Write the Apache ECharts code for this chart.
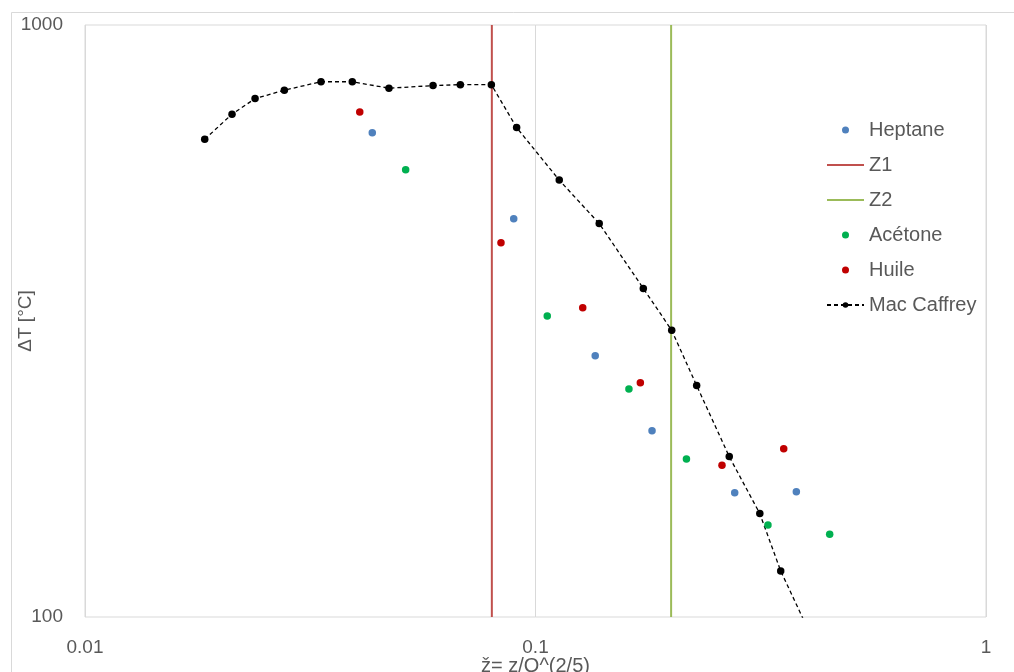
<!DOCTYPE html>
<html>
<head>
<meta charset="utf-8">
<script src="https://cdn.jsdelivr.net/npm/echarts@6/dist/echarts.min.js"></script>
<style>
html,body{margin:0;padding:0;background:#fff;}
#chart{width:1014px;height:672px;}
</style>
</head>
<body>
<div id="chart"></div>
<script>
// ---- data ----
const macCaffreyX = [0.01844, 0.02120, 0.02385, 0.02770, 0.03341, 0.03920, 0.04728, 0.05923, 0.06810, 0.0798, 0.0908, 0.1129, 0.1385, 0.1735, 0.2006, 0.2279, 0.2692, 0.3147, 0.3502, 0.428];
const macCaffreyY = [641, 707, 751, 776, 802, 802, 782, 790, 793, 793, 671, 547, 462, 359, 305, 246, 186.6, 149.5, 119.6, 86.3];

const heptaneX = [0.04342, 0.08946, 0.1357, 0.1814, 0.2768, 0.3793];
const heptaneY = [657.9, 470.9, 276.3, 206.3, 162.2, 162.8];

const huileX = [0.04073, 0.08383, 0.1273, 0.1709, 0.2594, 0.3556];
const huileY = [712.8, 428.8, 333.0, 248.8, 180.4, 192.4];

const acetoneX = [0.05150, 0.1062, 0.1612, 0.2163, 0.3281, 0.4498];
const acetoneY = [569.6, 322.5, 242.7, 184.8, 143.0, 138.0];

const z1X = [0.08, 0.08];
const z1Y = [100, 1000];
const z2X = [0.2, 0.2];
const z2Y = [100, 1000];

const xTickLabels = ['0.01', '0.1', '1'];
const yTickLabels = ['100', '1000'];
const seriesNames = ['Heptane', 'Z1', 'Z2', 'Acétone', 'Huile', 'Mac Caffrey'];

function pairs(xs, ys) { return xs.map((x, i) => [x, ys[i]]); }

const FONT = 'Liberation Sans';
const TXT = '#595959';

const chart = echarts.init(document.getElementById('chart'), null, {renderer: 'canvas'});

const option = {
  backgroundColor: '#ffffff',
  animation: false,
  graphic: [{
    type: 'rect', left: 9, top: 10, silent: true, z: -10,
    shape: {x: 0, y: 0, width: 1100, height: 800},
    style: {fill: 'none', stroke: '#d9d9d9', lineWidth: 1}
  }],
  grid: {
    left: 85, right: 28, top: 25, bottom: 55,
    show: true, borderColor: '#d9d9d9', borderWidth: 1, backgroundColor: 'transparent',
    containLabel: false, outerBoundsMode: 'none'
  },
  legend: {
    orient: 'vertical',
    left: 821, top: 115,
    itemWidth: 37, itemHeight: 7, itemGap: 15,
    textStyle: {fontFamily: FONT, fontSize: 20, color: TXT, lineHeight: 20},
    data: [
      {name: seriesNames[0]},
      {name: seriesNames[1], itemStyle: {opacity: 0}},
      {name: seriesNames[2], itemStyle: {opacity: 0}},
      {name: seriesNames[3]},
      {name: seriesNames[4]},
      {name: seriesNames[5]}
    ]
  },
  xAxis: {
    type: 'log', logBase: 10, min: 0.01, max: 1,
    name: 'ž= z/Q^(2/5)', nameLocation: 'middle', nameGap: 39, nameMoveOverlap: false,
    nameTextStyle: {fontFamily: FONT, fontSize: 20, color: TXT},
    axisLine: {show: false}, axisTick: {show: false},
    axisLabel: {
      fontFamily: FONT, fontSize: 19, color: TXT, margin: 21,
      formatter: function (v) {
        const idx = Math.round(Math.log10(v)) + 2;
        return xTickLabels[idx] !== undefined ? xTickLabels[idx] : '';
      }
    },
    splitLine: {show: true, lineStyle: {color: '#d9d9d9', width: 1}},
    minorSplitLine: {show: false}
  },
  yAxis: {
    type: 'log', logBase: 10, min: 100, max: 1000,
    name: 'ΔT [°C]', nameLocation: 'middle', nameGap: 50, nameMoveOverlap: false,
    nameTextStyle: {fontFamily: FONT, fontSize: 19, color: TXT},
    axisLine: {show: false}, axisTick: {show: false},
    axisLabel: {
      fontFamily: FONT, fontSize: 19, color: TXT, margin: 22, padding: [5, 0, 0, 0],
      formatter: function (v) {
        const idx = Math.round(Math.log10(v)) - 2;
        return yTickLabels[idx] !== undefined ? yTickLabels[idx] : '';
      }
    },
    splitLine: {show: false}
  },
  series: [
    {
      name: seriesNames[0], type: 'scatter', data: pairs(heptaneX, heptaneY),
      symbol: 'circle', symbolSize: 7.5, itemStyle: {color: '#4F81BD', opacity: 1}, z: 5
    },
    {
      name: seriesNames[1], type: 'line', data: pairs(z1X, z1Y),
      symbol: 'none', lineStyle: {color: '#C0504D', width: 2}, itemStyle: {color: '#C0504D'}, z: 2
    },
    {
      name: seriesNames[2], type: 'line', data: pairs(z2X, z2Y),
      symbol: 'none', lineStyle: {color: '#9BBB59', width: 2}, itemStyle: {color: '#9BBB59'}, z: 2
    },
    {
      name: seriesNames[3], type: 'scatter', data: pairs(acetoneX, acetoneY),
      symbol: 'circle', symbolSize: 7.5, itemStyle: {color: '#00B050', opacity: 1}, z: 5
    },
    {
      name: seriesNames[4], type: 'scatter', data: pairs(huileX, huileY),
      symbol: 'circle', symbolSize: 7.5, itemStyle: {color: '#C00000', opacity: 1}, z: 5
    },
    {
      name: seriesNames[5], type: 'line', data: pairs(macCaffreyX, macCaffreyY),
      symbol: 'circle', symbolSize: 7.5, showSymbol: true, clip: true,
      lineStyle: {color: '#000000', width: 1.3, type: [4, 3]},
      itemStyle: {color: '#000000'}, z: 4
    }
  ]
};
chart.setOption(option);
</script>
</body>
</html>
